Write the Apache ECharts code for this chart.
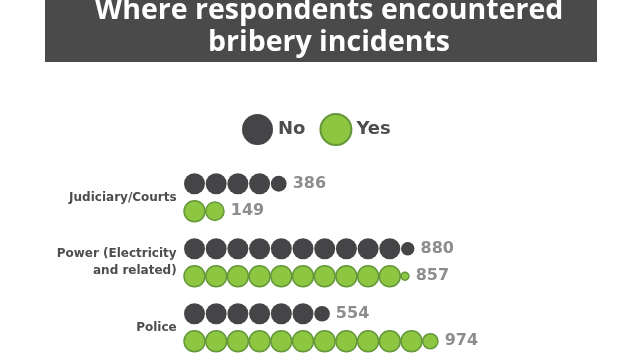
<!DOCTYPE html>
<html>
<head>
<meta charset="utf-8">
<script src="https://cdn.jsdelivr.net/npm/echarts@6/dist/echarts.min.js"></script>
<style>html,body{margin:0;padding:0;background:#fff}#c{width:640px;height:360px}</style>
</head>
<body>
<div id="c"></div>
<script>
const categories = ['Judiciary/Courts', 'Power (Electricity\nand related)', 'Police'];
const noValues = [386, 880, 554];
const yesValues = [149, 857, 974];
const unitPerCircle = 84.5;

const FULL = 21;
const TITLE_FONT = '"Open Sans", Lato, sans-serif';
const FONT = '"DejaVu Sans", sans-serif';

function buildCircles(values, yOff) {
  const out = [];
  values.forEach((v, row) => {
    const n = v / unitPerCircle;
    const full = Math.floor(n);
    const frac = n - full;
    const count = frac > 0.001 ? full + 1 : full;
    for (let i = 0; i < count; i++) {
      const d = i < full ? FULL : FULL * Math.sqrt(frac);
      const item = {
        value: [i, row],
        symbolSize: d,
        symbolOffset: [-(FULL - d) / 2, yOff]
      };
      if (i === count - 1) {
        item.label = { show: true, formatter: String(v) };
      }
      out.push(item);
    }
  });
  return out;
}

const chart = echarts.init(document.getElementById('c'));
const valueLabel = {
  show: false,
  position: 'right',
  distance: 6,
  color: '#8d8d8d',
  fontFamily: FONT,
  fontWeight: 'bold',
  fontSize: 16
};
chart.setOption({
  backgroundColor: '#ffffff',
  animation: false,
  graphic: [{
    type: 'rect',
    shape: { x: 45, y: -10, width: 552, height: 72 },
    style: { fill: '#4a4a4a' },
    z: -1
  }],
  title: {
    text: 'Where respondents encountered\nbribery incidents',
    left: 324,
    textAlign: 'center',
    top: -10,
    textStyle: {
      color: '#ffffff',
      fontFamily: TITLE_FONT,
      fontWeight: 'bold',
      fontSize: 28.5,
      lineHeight: 32
    }
  },
  legend: {
    left: 237,
    top: 108,
    icon: 'circle',
    itemWidth: 31,
    itemHeight: 31,
    itemGap: 14,
    textStyle: { color: '#4d4d4d', fontFamily: FONT, fontWeight: 'bold', fontSize: 18 },
    data: ['No', 'Yes']
  },
  grid: { left: 183.65, right: 22.35, top: 165, bottom: -1 },
  xAxis: {
    type: 'value', min: -0.5, max: 19.5, show: false
  },
  yAxis: {
    type: 'category',
    data: categories,
    inverse: true,
    axisLine: { show: false },
    axisTick: { show: false },
    splitLine: { show: false },
    axisLabel: {
      margin: 7,
      color: '#4d4d4d',
      fontFamily: FONT,
      fontWeight: 'bold',
      fontSize: 12,
      lineHeight: 17,
      align: 'right'
    }
  },
  series: [
    {
      name: 'No',
      type: 'scatter',
      symbol: 'circle',
      itemStyle: { color: '#454547', opacity: 1 },
      label: valueLabel,
      emphasis: { disabled: true },
      data: buildCircles(noValues, -13.75)
    },
    {
      name: 'Yes',
      type: 'scatter',
      symbol: 'circle',
      itemStyle: { color: '#8dc641', borderColor: '#64973a', borderWidth: 1.5, opacity: 1 },
      label: valueLabel,
      emphasis: { disabled: true },
      data: buildCircles(yesValues, 13.75)
    }
  ]
});
</script>
</body>
</html>
